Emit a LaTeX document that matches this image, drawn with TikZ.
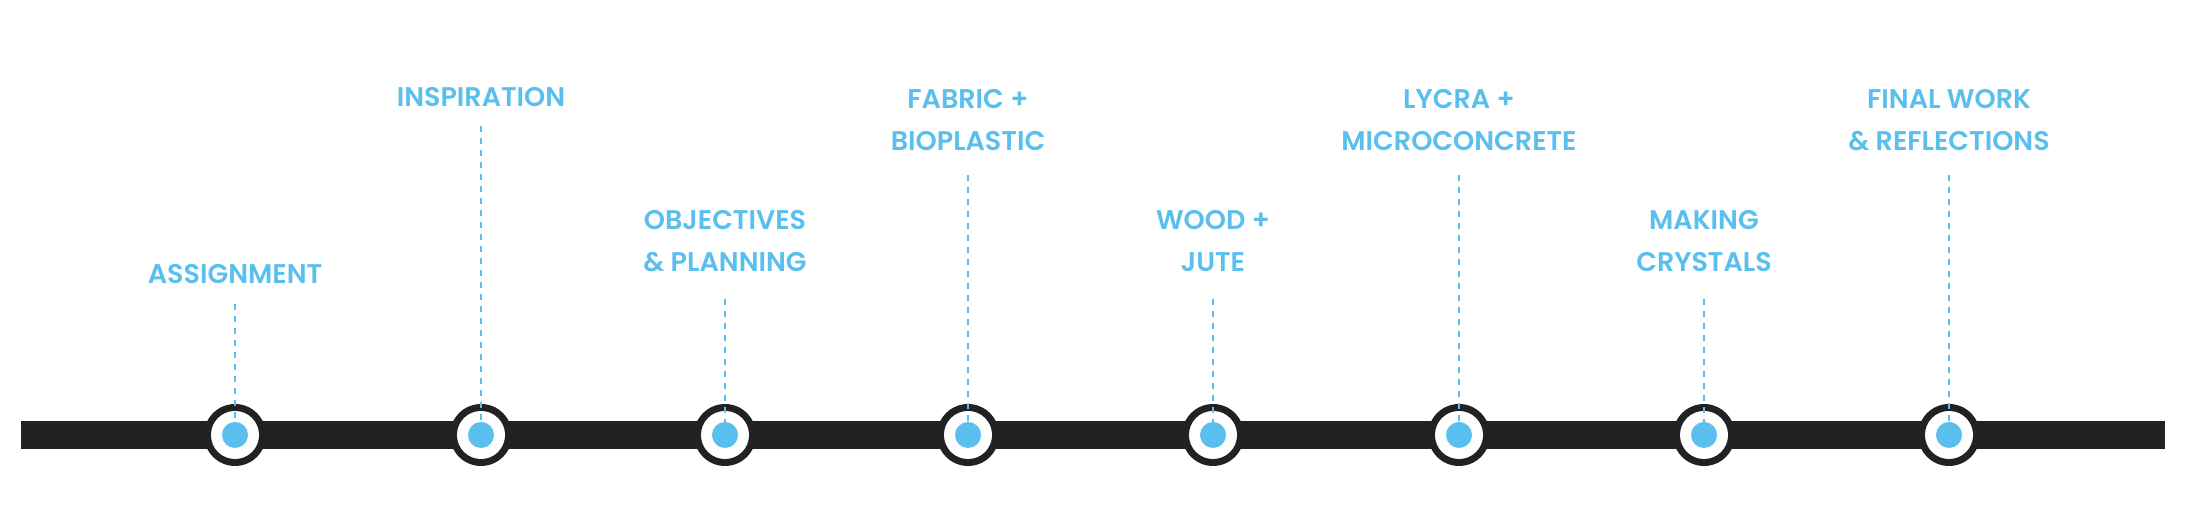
\documentclass[tikz,border=0pt]{standalone}
\usepackage{fontspec}
\setmainfont{Poppins}[UprightFont=* SemiBold]
\definecolor{skyblue}{HTML}{5BBFEE}
\definecolor{barblack}{HTML}{222222}

\begin{document}
\begin{tikzpicture}[
        x=1pt,y=1pt,
        stagelabel/.style={text=skyblue, align=center, font=\fontsize{27}{42}\selectfont, inner sep=0pt},
        ring/.style={circle, fill=barblack, minimum size=62pt, inner sep=0pt},
        hole/.style={circle, fill=white, minimum size=48pt, inner sep=0pt},
        dot/.style={circle, fill=skyblue, minimum size=26pt, inner sep=0pt},
        stem/.style={skyblue, line width=2.5pt, dash pattern=on 6pt off 6pt},
    ]
    \useasboundingbox (0,0) rectangle (2186,526);
    % the bar
    \fill[barblack] (21,77) rectangle (2165,105);
    % stages: x / label y / stem top / text
    \foreach \i/\x/\ly/\ty/\txt in {
        1/235/252/222/ASSIGNMENT,
        2/481/429/400/INSPIRATION,
        3/725/285/227/{OBJECTIVES\\\& PLANNING},
        4/968/406/351/{FABRIC +\\BIOPLASTIC},
        5/1213/285/227/{WOOD +\\JUTE},
        6/1459/406/351/{LYCRA +\\MICROCONCRETE},
        7/1704/285/227/{MAKING\\CRYSTALS},
        8/1949/406/351/{FINAL WORK\\\& REFLECTIONS}} {
        \node[ring] (r\i) at (\x,91) {};
        \node[hole] at (r\i) {};
        \node[dot] (d\i) at (r\i) {};
        \node[stagelabel] (l\i) at (\x,\ly) {\txt};
        \coordinate (t\i) at (\x,\ty);
        \draw[stem] (t\i) -- (d\i.center);
    }
\end{tikzpicture}
\end{document}
